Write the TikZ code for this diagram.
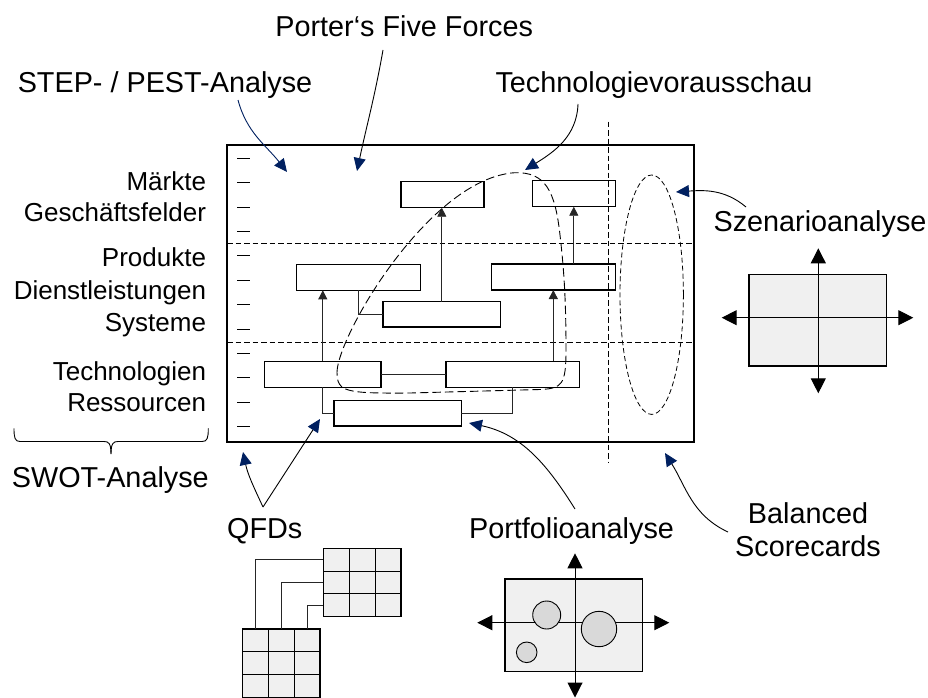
\documentclass[tikz,border=0pt]{standalone}
\usepackage{fontspec}
\setmainfont{Liberation Sans}
\usetikzlibrary{arrows.meta,calc}
\definecolor{navy}{RGB}{0,32,96}
\definecolor{lightfill}{RGB}{240,240,240}
\definecolor{circfill}{RGB}{217,217,217}
\newcommand\biglbl{\fontsize{28.8}{33}\selectfont}
\newcommand\sidelbl{\fontsize{26}{32}\selectfont}
\tikzset{
  frm/.style={draw, line width=1.3pt, inner sep=0pt, outer sep=0pt},
  bx/.style={draw, line width=1.2pt, inner sep=0pt, outer sep=0pt},
  conn/.style={line width=0.8pt, draw=black!85},
  uparr/.style={conn, -{Triangle[length=9pt,width=9pt]}},
  sepline/.style={line width=0.8pt, dash pattern=on 5.5pt off 3pt},
  blob/.style={line width=0.9pt, dash pattern=on 8.5pt off 4pt},
  ell/.style={line width=0.8pt, dash pattern=on 5pt off 3pt},
  tickln/.style={line width=1pt},
  ptr/.style={line width=0.9pt, -{Triangle[length=13pt,width=12pt,color=navy]}},
  ptrblue/.style={ptr, draw=navy},
  txt/.style={inner sep=0pt, outer sep=0pt, font=\biglbl},
  sidetxt/.style={inner sep=0pt, outer sep=0pt, anchor=base east, font=\sidelbl},
  grayrect/.style={draw, line width=1.2pt, fill=lightfill, inner sep=0pt, outer sep=0pt},
  gridln/.style={line width=0.9pt},
  axis/.style={line width=1pt, {Triangle[length=15pt,width=15pt]}-{Triangle[length=15pt,width=15pt]}},
  circ/.style={circle, draw, line width=0.9pt, fill=circfill, inner sep=0pt, outer sep=0pt},
}
\begin{document}
\begin{tikzpicture}[x=1pt,y=-1pt]
\useasboundingbox (0,0) rectangle (928,698);

% ---------- main frame ----------
\node[frm, minimum width=467pt, minimum height=297pt] (frame) at (460.5,293.5) {};
\foreach \k in {0,...,11}
  \draw[tickln] (237,{158.3+24.4*\k}) -- (250,{158.3+24.4*\k});

% separators
\coordinate (h1) at (300,243.3);
\coordinate (h2) at (300,342.3);
\draw[sepline] (frame.west |- h1) -- (frame.east |- h1);
\draw[sepline] (frame.west |- h2) -- (frame.east |- h2);
\coordinate (vdT) at (608.3,121.7);
\coordinate (vdB) at (608.3,463.3);
\draw[sepline] (vdT) -- (vdB);

% ---------- boxes ----------
\node[bx, minimum width=83pt,   minimum height=26pt]   (A) at (442.5,194.7) {};
\node[bx, minimum width=83pt,   minimum height=26pt]   (B) at (573.8,193.7) {};
\node[bx, minimum width=124pt,  minimum height=26pt]   (C) at (358.3,277.3) {};
\node[bx, minimum width=124pt,  minimum height=26pt]   (D) at (553.3,277.0) {};
\node[bx, minimum width=117.7pt,minimum height=25.3pt] (E) at (441.8,314.3) {};
\node[bx, minimum width=116.3pt,minimum height=26pt]   (F) at (322.8,374.3) {};
\node[bx, minimum width=133.3pt,minimum height=26pt]   (G) at (512.7,374.3) {};
\node[bx, minimum width=127.3pt,minimum height=25.7pt] (H) at (397.7,413.2) {};

% ---------- connectors ----------
\draw[uparr] (E.north) -- (E.north |- A.south);
\draw[uparr] (B.south |- D.north) -- (B.south);
\draw[uparr] (F.north) -- (F.north |- C.south);
\draw[uparr] (D.south |- G.north) -- (D.south);
\draw[conn] (C.south) |- (E.west);
\draw[conn] (F.east) -- (G.west);
\draw[conn] (F.south) |- (H.west);
\draw[conn] (G.south) |- (H.east);

% ---------- dashed shapes ----------
\draw[blob] (337,372) .. controls (338,335) and (430,178) .. (515,172.7)
  .. controls (545,172) and (555,190) .. (560,235)
  .. controls (564,270) and (566,300) .. (566,350)
  .. controls (566,385) and (562,388.5) .. (540,389.5)
  -- (410,393)
  .. controls (345,393.5) and (337,392) .. (337,372) -- cycle;
\draw[ell] (651.7,294.7) ellipse [x radius=31.7pt, y radius=119.7pt];

% ---------- left labels ----------
\node[sidetxt] (l1) at (206,190)   {Märkte};
\node[sidetxt] (l2) at (206,221.7) {Geschäftsfelder};
\node[sidetxt] (l3) at (206,266.7) {Produkte};
\node[sidetxt] (l4) at (206,299.3) {Dienstleistungen};
\node[sidetxt] (l5) at (206,331.7) {Systeme};
\node[sidetxt] (l6) at (206,380)   {Technologien};
\node[sidetxt] (l7) at (206,411.7) {Ressourcen};

% brace
\draw[line width=0.9pt] (14,428.3) .. controls (14,438) and (15,441.5) .. (20,441.5) -- (104,441.5)
  .. controls (108.5,441.5) and (111,443) .. (111,454);
\draw[line width=0.9pt] (208.3,428.3) .. controls (208.3,438) and (207.3,441.5) .. (202.3,441.5) -- (118,441.5)
  .. controls (113.5,441.5) and (111,443) .. (111,454);

% ---------- outer labels ----------
\node[txt, anchor=base] (porter) at (404.2,36.7)  {Porter‘s Five Forces};
\node[txt, anchor=base] (step)   at (165,92.7)    {STEP- / PEST-Analyse};
\node[txt, anchor=base] (tech)   at (654,92.7)    {Technologievorausschau};
\node[txt, anchor=base] (szen)   at (820,231.7)   {Szenarioanalyse};
\node[txt, anchor=base] (swot)   at (110.3,487.3) {SWOT-Analyse};
\node[txt, anchor=base] (qfd)    at (264.7,538)   {QFDs};
\node[txt, anchor=base] (port)   at (571.5,538.3) {Portfolioanalyse};
\node[txt, anchor=base] (bal)    at (808,523.5)   {Balanced};
\node[txt, anchor=base] (bsc)    at (808,556.5)   {Scorecards};

% ---------- pointer arrows ----------
\coordinate (stepS) at (238,100);   \coordinate (stepT) at (287,172);
\coordinate (porS)  at (383,50);    \coordinate (porT)  at (357,171);
\coordinate (tecS)  at (578,104);   \coordinate (tecT)  at (525,170);
\coordinate (szS)   at (746,207);   \coordinate (szTip) at (676,192);
\coordinate (qV)    at (263,507);   \coordinate (qT1)   at (243,452);  \coordinate (qT2) at (320,419);
\coordinate (pfS)   at (575,509);   \coordinate (pfTip) at (469,423);
\coordinate (bsS)   at (728,532);   \coordinate (bsT)   at (665,453);

\draw[ptrblue] (stepS) to[out=-75,in=128] (stepT);
\draw[ptr] (porS) to[out=-100,in=78] (porT);
\draw[ptr] (tecS) to[out=-92,in=32] (tecT);
\draw[ptr] (szS) to[out=140,in=4] (szTip);
\draw[ptr] (qV) to[out=115,in=-78] (qT1);
\draw[ptr] (qV) -- (qT2);
\draw[ptr] (pfS) to[out=122,in=-12] (pfTip);
\draw[ptr] (bsS) to[out=155,in=-58] (bsT);

% ---------- Szenario diagram ----------
\node[grayrect, minimum width=137.7pt, minimum height=91.7pt] (SZ) at (817.8,320.2) {};
\coordinate (szAT) at (818.3,248.3); \coordinate (szAB) at (818.3,393.3);
\coordinate (szAL) at (721.7,317.7); \coordinate (szAR) at (913.3,317.7);
\draw[axis] (szAT) -- (szAB);
\draw[axis] (szAL) -- (szAR);

% ---------- Portfolio diagram ----------
\node[grayrect, minimum width=137.7pt, minimum height=92.7pt] (PF) at (573.8,625.3) {};
\coordinate (pfAT) at (575,553.3); \coordinate (pfAB) at (575,697.5);
\coordinate (pfAL) at (477.3,622.7); \coordinate (pfAR) at (669.3,622.7);
\draw[axis] (pfAT) -- (pfAB);
\draw[axis] (pfAL) -- (pfAR);
\node[circ, minimum size=28pt]   (c1) at (546.7,615) {};
\node[circ, minimum size=35.4pt] (c2) at (599,629) {};
\node[circ, minimum size=20.6pt] (c3) at (526.7,652.3) {};

% ---------- QFD matrices ----------
\node[grayrect, minimum width=77.7pt, minimum height=68.4pt] (M1) at (362.2,582.5) {};
\node[grayrect, minimum width=77.3pt, minimum height=68.4pt] (M2) at (281.4,663.1) {};
\foreach \m in {M1,M2}{
  \foreach \f in {0.3333,0.6667}{
    \draw[gridln] ($(\m.north west)!\f!(\m.north east)$) -- ($(\m.south west)!\f!(\m.south east)$);
    \draw[gridln] ($(\m.north west)!\f!(\m.south west)$) -- ($(\m.north east)!\f!(\m.south east)$);
  }
}
\draw[conn] ($(M2.north west)!0.1667!(M2.north east)$) |- ($(M1.north west)!0.1667!(M1.south west)$);
\draw[conn] ($(M2.north west)!0.5!(M2.north east)$)    |- ($(M1.north west)!0.5!(M1.south west)$);
\draw[conn] ($(M2.north west)!0.8333!(M2.north east)$) |- ($(M1.north west)!0.8333!(M1.south west)$);
\end{tikzpicture}
\end{document}
